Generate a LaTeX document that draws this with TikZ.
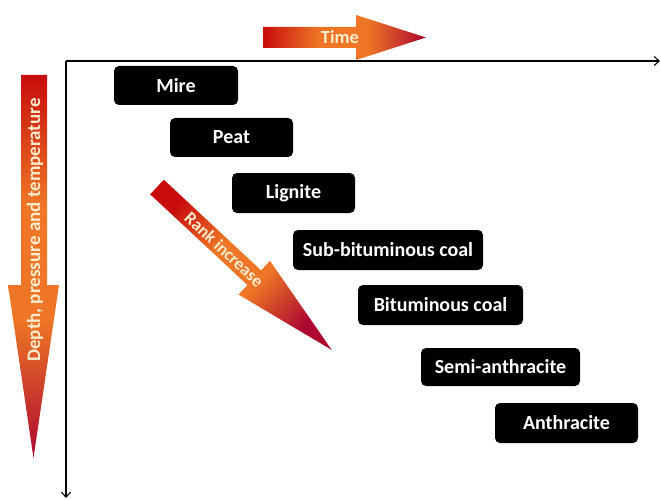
\documentclass[tikz,border=0pt]{standalone}
\usepackage{fontspec}
\setmainfont{Carlito}
\usetikzlibrary{arrows.meta}
\definecolor{arred}{RGB}{200,12,12}
\definecolor{arorange}{RGB}{238,118,38}
\definecolor{artip}{RGB}{172,8,48}
\definecolor{arcream}{RGB}{255,236,205}
\pgfdeclareverticalshading{arrowshade}{100bp}{color(0bp)=(artip); color(25bp)=(artip); color(43bp)=(arorange); color(58bp)=(arorange); color(75bp)=(arred); color(100bp)=(arred)}
\tikzset{
  coalbox/.style={fill=black, rounded corners=5pt, text=white, inner sep=0pt,
    font=\fontsize{20}{22}\selectfont\bfseries, align=center},
  axisline/.style={draw=black, line width=1.2pt, -{Straight Barb[length=5pt,width=9pt,line width=1.1pt]}},
  arrowtext/.style={text=arcream, font=\fontsize{19}{21}\selectfont\bfseries, inner sep=0pt},
  bigarrow/.style={shading=arrowshade}
}
\begin{document}
\begin{tikzpicture}[x=1pt,y=1pt]
\useasboundingbox (0,0) rectangle (661,499);
% axes
\coordinate (o) at (66,438);
\coordinate (xend) at (660,438);
\coordinate (yend) at (66,1);
\draw[axisline] (o) -- (xend);
\draw[axisline] (o) -- (yend);
% time arrow
\shade[bigarrow, shading angle=90]
  (263,451) -- (356,451) -- (356,439) -- (426,461.5) -- (356,484) -- (356,472) -- (263,472) -- cycle;
\node[arrowtext, font=\fontsize{18.5}{20}\selectfont\bfseries] (time) at (340,461.5) {Time};
% depth arrow
\shade[bigarrow]
  (21,424) -- (47,424) -- (47,214) -- (59,214) -- (33.5,41) -- (8,214) -- (21,214) -- cycle;
\node[arrowtext, rotate=90] (depth) at (35,269) {Depth, pressure and temperature};
% rank arrow
\begin{scope}[shift={(157,312)}, rotate=-43]
\shade[bigarrow, shading angle=47]
  (0,-10) -- (133,-10) -- (133,-23) -- (239,0) -- (133,23) -- (133,10) -- (0,10) -- cycle;
\node[arrowtext, rotate=-43, font=\fontsize{17.5}{19}\selectfont\bfseries] (rank) at (92,0) {Rank increase};
\end{scope}
% coal boxes
\node[coalbox, minimum width=124pt, minimum height=39pt] (mire) at (176,413.5) {Mire};
\node[coalbox, minimum width=123pt, minimum height=39pt] (peat) at (231.5,361.5) {Peat};
\node[coalbox, minimum width=123pt, minimum height=40pt] (lignite) at (293.5,306) {Lignite};
\node[coalbox, minimum width=190pt, minimum height=40pt] (sub) at (388,249) {Sub-bituminous coal};
\node[coalbox, minimum width=165pt, minimum height=40pt] (bit) at (440.5,194) {Bituminous coal};
\node[coalbox, minimum width=159pt, minimum height=38pt] (semi) at (500.5,132) {Semi-anthracite};
\node[coalbox, minimum width=143pt, minimum height=40pt] (anth) at (566.5,76) {Anthracite};
\end{tikzpicture}
\end{document}
